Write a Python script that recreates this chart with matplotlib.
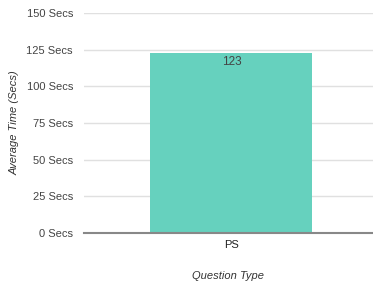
import matplotlib
matplotlib.use('Agg')
import matplotlib.pyplot as plt

categories = ['PS']
values = [123]
yticks = [0, 25, 50, 75, 100, 125, 150]

plt.rcParams['font.family'] = ['Liberation Sans', 'DejaVu Sans']

fig = plt.figure(figsize=(3.73, 2.87), dpi=100)
ax = fig.add_axes([0.2252, 0.1882, 0.7748, 0.7665])

bars = ax.bar(range(len(categories)), values, width=0.56, color='#66d1be', zorder=2)
ax.set_xlim(-0.51, 0.49)
ax.set_ylim(0, 150)
ax.set_yticks(yticks)
ax.set_yticklabels([str(v) + ' Secs' for v in yticks], fontsize=8, color='#444444')
ax.set_xticks(range(len(categories)))
ax.set_xticklabels(categories, fontsize=8, color='#222222')
ax.tick_params(length=0, pad=8)
ax.tick_params(axis='x', pad=5)
ax.grid(axis='y', color='#e0e0e0', linewidth=1, zorder=0)
for s in ['top', 'right', 'left']:
    ax.spines[s].set_visible(False)
ax.spines['bottom'].set_color('#888888')
ax.spines['bottom'].set_linewidth(1.5)
ax.spines['bottom'].set_zorder(3)

for b, v in zip(bars, values):
    ax.text(b.get_x() + b.get_width() / 2, v - 2, str(v), ha='center', va='top',
            fontsize=8.5, color='#444444')

ax.set_ylabel('Average Time (Secs)', fontsize=8, style='italic', color='#333333', labelpad=5)
ax.set_xlabel('Question Type', fontsize=8, style='italic', color='#333333', labelpad=15)

fig.savefig('out.png', dpi=100)
